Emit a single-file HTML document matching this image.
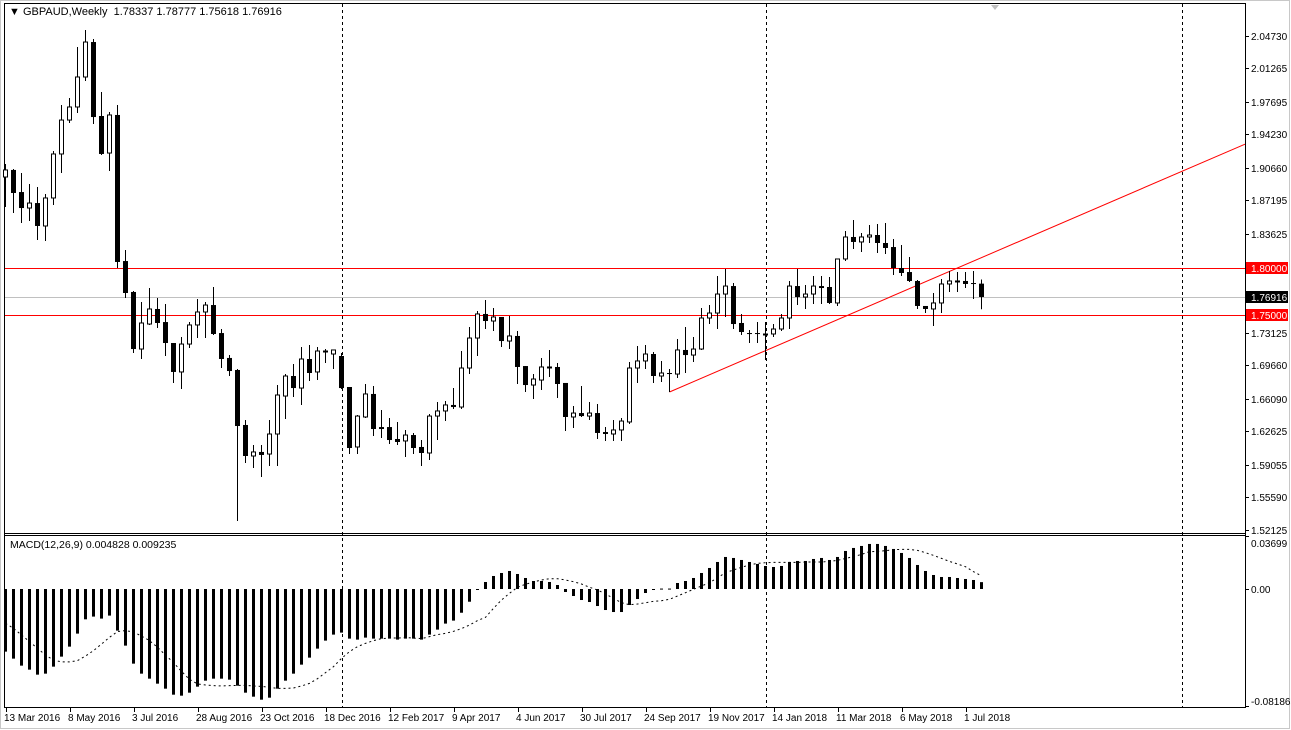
<!DOCTYPE html>
<html><head><meta charset="utf-8"><style>
html,body{margin:0;padding:0;background:#fff;}
svg{display:block;font-family:"Liberation Sans",sans-serif;}
</style></head><body>
<svg id="chart" width="1291" height="730" viewBox="0 0 1291 730" xmlns="http://www.w3.org/2000/svg">
<rect x="0" y="0" width="1291" height="730" fill="#fff"/>
<rect x="0.5" y="0.5" width="1289" height="728" fill="none" stroke="#c8c8c8"/>
<g id="frame">
<line x1="4.5" y1="3" x2="4.5" y2="708" stroke="#000"/>
<line x1="4" y1="3.5" x2="1246" y2="3.5" stroke="#000"/>
<line x1="1245.5" y1="3" x2="1245.5" y2="708" stroke="#000"/>
<line x1="4" y1="533.5" x2="1246" y2="533.5" stroke="#000"/>
<line x1="4" y1="535.5" x2="1246" y2="535.5" stroke="#000"/>
<line x1="4" y1="707.5" x2="1246" y2="707.5" stroke="#000"/>
</g>
<g id="grid"></g>
<g id="levels"></g>
<g id="candles"></g>
<g id="macd"></g>
<g id="axes"></g>
<text x="9" y="15" font-size="11">&#9660; GBPAUD,Weekly&#160; 1.78337 1.78777 1.75618 1.76916</text>
<polygon points="991,5 999,5 995,10" fill="#c0c0c0"/>
<text x="10" y="548" font-size="10.5">MACD(12,26,9) 0.004828 0.009235</text>
</svg>
<script>
const opens=[1.8968,1.9043,1.8808,1.8638,1.8691,1.8447,1.8745,1.9213,1.9574,1.9713,2.0032,2.0404,1.9617,1.9223,1.9628,1.8074,1.7745,1.7138,1.7404,1.7564,1.7425,1.7202,1.6894,1.7191,1.7394,1.7532,1.7606,1.7308,1.7043,1.6915,1.6330,1.6000,1.6043,1.6021,1.6234,1.6638,1.6851,1.6723,1.7032,1.6894,1.7117,1.7085,1.7064,1.6734,1.6096,1.6415,1.6660,1.6308,1.6308,1.6181,1.6160,1.6223,1.6096,1.6032,1.6425,1.6479,1.6543,1.6521,1.6936,1.7255,1.7511,1.7436,1.7479,1.7223,1.7277,1.6957,1.6755,1.6808,1.6947,1.6947,1.6777,1.6415,1.6457,1.6425,1.6457,1.6255,1.6234,1.6277,1.6362,1.6936,1.7011,1.7085,1.6851,1.6883,1.6872,1.7128,1.7074,1.7138,1.7468,1.7521,1.7723,1.7808,1.7415,1.7308,1.7308,1.7298,1.7298,1.7351,1.7468,1.7808,1.7691,1.7723,1.7808,1.7798,1.7628,1.8096,1.8330,1.8277,1.8330,1.8351,1.8266,1.8223,1.8000,1.7957,1.7862,1.7596,1.7564,1.7628,1.7830,1.7862,1.7862,1.7840,1.78337];
const highs=[1.9106,1.9053,1.9011,1.8894,1.8862,1.8787,1.9245,1.9734,1.9808,2.0351,2.0532,2.0436,1.9872,1.9660,1.9734,1.8191,1.7755,1.7638,1.7787,1.7681,1.7617,1.7202,1.7266,1.7425,1.7670,1.7638,1.7798,1.7351,1.7074,1.6926,1.6383,1.6117,1.6117,1.6383,1.6755,1.6872,1.6979,1.7160,1.7181,1.7160,1.7138,1.7128,1.7096,1.6734,1.6436,1.6766,1.6745,1.6489,1.6404,1.6362,1.6277,1.6245,1.6170,1.6447,1.6574,1.6585,1.6723,1.7117,1.7372,1.7543,1.7660,1.7574,1.7479,1.7489,1.7330,1.6957,1.6872,1.7043,1.7128,1.6989,1.6777,1.6532,1.6745,1.6574,1.6553,1.6308,1.6383,1.6404,1.7000,1.7170,1.7181,1.7106,1.7011,1.6926,1.7245,1.7372,1.7266,1.7574,1.7606,1.7915,1.7989,1.7840,1.7511,1.7340,1.7425,1.7425,1.7404,1.7511,1.7862,1.7989,1.7819,1.7915,1.7915,1.7904,1.8096,1.8394,1.8511,1.8372,1.8457,1.8468,1.8479,1.8308,1.8245,1.8117,1.7872,1.7596,1.7734,1.7883,1.7968,1.7957,1.7957,1.7968,1.78777];
const lows=[1.8649,1.8585,1.8479,1.8500,1.8298,1.8287,1.8670,1.9011,1.9543,1.9649,1.9989,1.9532,1.9202,1.9032,1.8000,1.7681,1.7096,1.7032,1.7394,1.7362,1.7064,1.6777,1.6713,1.7149,1.7255,1.7255,1.7287,1.6936,1.6851,1.5308,1.5926,1.5872,1.5777,1.5894,1.5894,1.6394,1.6628,1.6543,1.6798,1.6808,1.6989,1.6926,1.6713,1.6021,1.6021,1.6404,1.6213,1.6191,1.6128,1.6117,1.5989,1.6021,1.5894,1.5957,1.6170,1.6372,1.6500,1.6500,1.6872,1.7064,1.7351,1.7330,1.7160,1.7138,1.6766,1.6681,1.6606,1.6702,1.6840,1.6617,1.6266,1.6298,1.6415,1.6383,1.6181,1.6160,1.6160,1.6160,1.6340,1.6777,1.6926,1.6777,1.6787,1.6681,1.6830,1.6883,1.7000,1.7128,1.7404,1.7351,1.7479,1.7351,1.7287,1.7202,1.7202,1.7021,1.7266,1.7330,1.7351,1.7606,1.7564,1.7617,1.7617,1.7617,1.7596,1.8074,1.8202,1.8170,1.8266,1.8160,1.8149,1.7926,1.7915,1.7851,1.7564,1.7521,1.7383,1.7521,1.7745,1.7745,1.7787,1.7670,1.75618];
const closes=[1.9043,1.8798,1.8638,1.8691,1.8447,1.8745,1.9213,1.9574,1.9713,2.0032,2.0404,1.9606,1.9213,1.9628,1.8064,1.7734,1.7138,1.7415,1.7564,1.7415,1.7202,1.6894,1.7191,1.7394,1.7532,1.7606,1.7298,1.7032,1.6904,1.6319,1.6000,1.6043,1.6011,1.6234,1.6649,1.6851,1.6723,1.7032,1.6883,1.7117,1.7117,1.7128,1.6723,1.6085,1.6425,1.6660,1.6287,1.6287,1.6170,1.6149,1.6223,1.6085,1.6032,1.6425,1.6479,1.6543,1.6521,1.6936,1.7255,1.7511,1.7436,1.7479,1.7223,1.7277,1.6947,1.6755,1.6819,1.6947,1.6947,1.6766,1.6415,1.6457,1.6425,1.6457,1.6245,1.6234,1.6277,1.6372,1.6936,1.7011,1.7085,1.6851,1.6883,1.6872,1.7128,1.7074,1.7138,1.7468,1.7521,1.7723,1.7808,1.7404,1.7319,1.7298,1.7298,1.7298,1.7351,1.7468,1.7808,1.7691,1.7723,1.7808,1.7787,1.7628,1.8096,1.8330,1.8277,1.8330,1.8351,1.8266,1.8213,1.8000,1.7947,1.7862,1.7596,1.7564,1.7628,1.7830,1.7862,1.7862,1.7830,1.7830,1.76916];
const macdHist=[-43.8,-48.7,-53.6,-56.4,-59.9,-59.2,-54.3,-47.3,-40.3,-31.2,-21.2,-19.3,-20.7,-18.6,-29.1,-39.6,-52.2,-59.2,-62.7,-66.2,-69.7,-73.9,-74.6,-72.5,-68.3,-64.1,-62.7,-62.7,-63.4,-67.6,-72.5,-75.3,-77.4,-76.0,-69.7,-64.1,-59.2,-52.9,-48.0,-41.7,-36.1,-31.9,-30.5,-34.7,-35.4,-34.0,-34.7,-34.7,-34.7,-35.4,-34.7,-34.7,-35.4,-31.9,-28.4,-24.2,-22.1,-16.6,-8.9,-0.7,4.9,9.1,11.2,12.6,10.5,7.7,5.6,5.6,4.9,2.8,-2.1,-4.9,-7.7,-9.1,-11.9,-14.7,-16.1,-16.1,-11.2,-7.0,-2.8,-0.7,0.3,0.3,4.2,5.6,7.7,11.2,14.7,18.9,22.4,21.7,20.3,18.9,17.5,16.1,15.4,16.1,18.9,19.6,19.6,21.0,21.7,20.3,22.4,26.6,28.7,30.1,31.5,31.5,30.1,28.0,25.2,21.7,16.8,12.6,9.8,8.4,8.4,7.7,7.0,6.3,4.8];
const macdSignal=[-24.0,-27.5,-32.2,-36.8,-41.5,-46.2,-49.7,-51.0,-51.0,-50.1,-46.9,-43.1,-38.5,-33.8,-29.8,-29.1,-30.1,-32.9,-36.1,-40.8,-46.2,-51.5,-57.6,-63.2,-66.4,-67.1,-67.6,-67.8,-67.6,-67.4,-67.4,-67.8,-68.1,-68.8,-69.5,-69.5,-69.2,-67.8,-66.0,-62.7,-58.5,-54.3,-48.5,-43.8,-40.3,-38.0,-36.1,-34.7,-34.3,-34.3,-34.0,-34.3,-34.7,-33.3,-31.9,-31.0,-29.6,-27.7,-25.2,-22.1,-19.8,-13.5,-7.7,-3.0,1.2,3.3,4.9,6.3,7.2,7.2,6.3,5.1,3.5,1.2,-0.7,-3.5,-6.5,-9.6,-11.0,-10.5,-9.6,-8.6,-8.2,-7.2,-4.9,-2.6,-0.2,2.1,4.4,7.9,11.4,13.3,15.2,16.8,17.9,18.4,18.6,18.6,18.6,18.6,18.9,18.9,18.9,19.3,20.0,21.4,22.6,24.2,26.1,26.3,26.8,27.5,27.7,27.7,27.0,25.4,23.5,21.4,19.3,17.5,15.6,12.1,9.2];
const priceTicks=[2.04730,2.01265,1.97695,1.94230,1.90660,1.87195,1.83625,1.73125,1.69660,1.66090,1.62625,1.59055,1.55590,1.52125];
const macdTicks=["0.03699","0.00","-0.081863"];
const macdTickVals=[0.03699,0,-0.081863];
const dateLabels=["13 Mar 2016","8 May 2016","3 Jul 2016","28 Aug 2016","23 Oct 2016","18 Dec 2016","12 Feb 2017","9 Apr 2017","4 Jun 2017","30 Jul 2017","24 Sep 2017","19 Nov 2017","14 Jan 2018","11 Mar 2018","6 May 2018","1 Jul 2018"];
const dateIdx=[0,8,16,24,32,40,48,56,64,72,80,88,96,104,112,120];
const hLevels=[1.80000,1.75000];
const currentPrice=1.76916;
const separatorIdx=[42,95,147];
const trendStart=[83,1.6681];
const trendSlopePerBar=0.003665;

const NS="http://www.w3.org/2000/svg";
const X=i=>5.5+8*i;
const Y=p=>268+(1.8-p)*940;
const YM=v=>589-v*1430;
function mk(tag,attrs,parent){const e=document.createElementNS(NS,tag);for(const k in attrs)e.setAttribute(k,attrs[k]);parent.appendChild(e);return e;}
const grid=document.getElementById('grid'),levels=document.getElementById('levels'),cg=document.getElementById('candles'),mg=document.getElementById('macd'),ax=document.getElementById('axes');

separatorIdx.forEach(i=>{
  const l=mk('line',{x1:Math.round(X(i))+0.5,y1:4,x2:Math.round(X(i))+0.5,y2:707,stroke:'#000','stroke-dasharray':'3,3'},grid);
  
  
});

const cp=mk('line',{x1:5,y1:Math.round(Y(currentPrice))+0.5,x2:1245,y2:Math.round(Y(currentPrice))+0.5,stroke:'#c0c0c0'},levels);


hLevels.forEach(p=>{
  const l=mk('line',{x1:5,y1:Math.round(Y(p))+0.5,x2:1245,y2:Math.round(Y(p))+0.5,stroke:'#ff0000'},levels);
  
  
});
const tx1=X(trendStart[0]),ty1=Y(trendStart[1]);
const barsToEdge=(1245-tx1)/8;
const tl=mk('line',{x1:tx1,y1:ty1,x2:1245,y2:Y(trendStart[1]+trendSlopePerBar*barsToEdge),stroke:'#ff0000','stroke-width':1},levels);



for(let i=0;i<opens.length;i++){
  const o=opens[i],h=highs[i],l=lows[i],c=closes[i],cx=X(i);
  const g=mk('g',{},cg);
  
  
  mk('line',{x1:cx,y1:Y(h),x2:cx,y2:Y(l),stroke:'#000'},g);
  const top=Math.min(Y(o),Y(c)),bot=Math.max(Y(o),Y(c));
  if(c>=o){
    mk('rect',{x:cx-2,y:top,width:4,height:Math.max(bot-top,1),fill:'#fff',stroke:'#000'},g);
  }else{
    mk('rect',{x:cx-2.5,y:top,width:5,height:Math.max(bot-top,1),fill:'#000'},g);
  }
}

for(let i=0;i<macdHist.length;i++){
  const v=macdHist[i]*0.001,y0=YM(0),y1=YM(v);
  const r=mk('rect',{x:X(i)-1.5,y:Math.min(y0,y1),width:3,height:Math.max(Math.abs(y1-y0),1),fill:'#000'},mg);
  
  
}
const sp=mk('polyline',{points:macdSignal.map((v,i)=>X(i)+','+YM(v*0.001)).join(' '),fill:'none',stroke:'#000','stroke-dasharray':'2,3','stroke-width':1},mg);



priceTicks.forEach(p=>{
  const y=Math.round(Y(p));
  mk('line',{x1:1245,y1:y+0.5,x2:1249,y2:y+0.5,stroke:'#000'},ax);
  const t=mk('text',{x:1251,y:y+4,'font-size':'10'},ax);
  t.textContent=p.toFixed(5);
  
  
});
function boxLabel(p,bg,name){
  const y=Math.round(Y(p));
  mk('rect',{x:1246,y:y-6,width:42,height:12,fill:bg},ax);
  const t=mk('text',{x:1251,y:y+4,'font-size':'10',fill:'#fff'},ax);
  t.textContent=p.toFixed(5);
  
  
}
boxLabel(hLevels[0],'#ff0000','level-label-1-80');
boxLabel(hLevels[1],'#ff0000','level-label-1-75');
boxLabel(currentPrice,'#000','current-price-label');

macdTicks.forEach((s,k)=>{
  const y=Math.round(YM(macdTickVals[k]));
  mk('line',{x1:1245,y1:y+0.5,x2:1249,y2:y+0.5,stroke:'#000'},ax);
  const t=mk('text',{x:1251,y:Math.min(Math.max(y+4,547),705),'font-size':'10'},ax);
  t.textContent=s;
  
  
});

dateLabels.forEach((s,k)=>{
  const x=Math.round(X(dateIdx[k]))+0.5;
  mk('line',{x1:x,y1:707,x2:x,y2:712,stroke:'#000'},ax);
  const t=mk('text',{x:x-2.5,y:721,'font-size':'10'},ax);
  t.textContent=s;
  
  
});
</script>
</body></html>
